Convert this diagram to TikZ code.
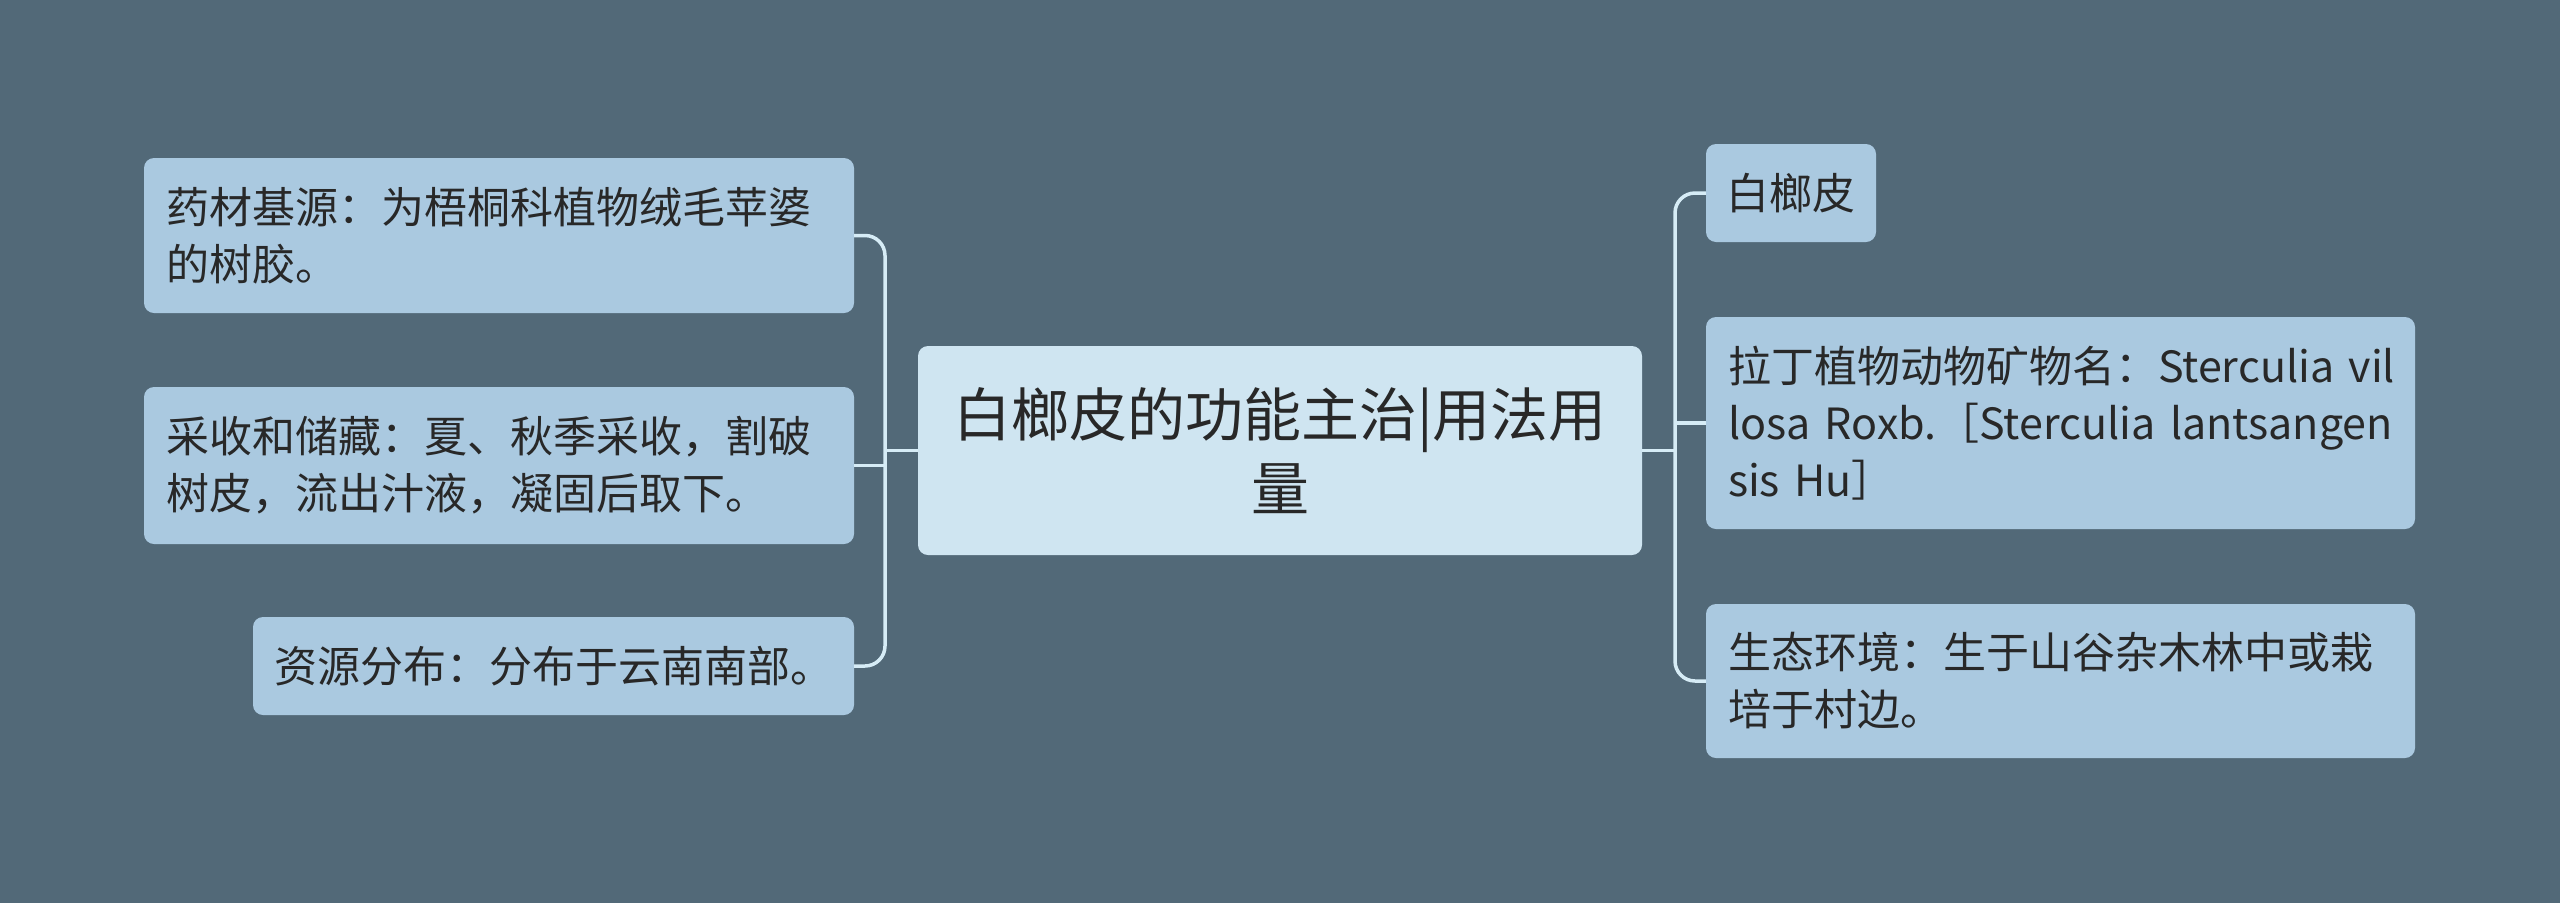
\documentclass[tikz,border=0pt]{standalone}
\usepackage{fontspec}
\setmainfont{Noto Sans CJK SC}
\definecolor{bg}{RGB}{82,105,120}
\definecolor{leaf}{RGB}{170,201,224}
\definecolor{root}{RGB}{207,229,241}
\definecolor{wire}{RGB}{214,236,246}
\definecolor{ink}{RGB}{40,40,40}
\begin{document}
\begin{tikzpicture}[x=1pt,y=-1pt,
  leafbox/.style={draw=none,fill=leaf,rounded corners=10pt,text=ink,
    font=\fontsize{43}{57}\selectfont,inner xsep=0pt,inner ysep=0pt,anchor=center},
  rootbox/.style={draw=none,fill=root,rounded corners=10pt,text=ink,
    font=\fontsize{58}{74}\selectfont,inner xsep=0pt,inner ysep=0pt,align=center,anchor=center},
  conn/.style={draw=wire,line width=3.5pt,rounded corners=20pt}]
\fill[bg] (0,0) rectangle (2560,903);
\useasboundingbox (0,0) rectangle (2560,903);

\node[rootbox,minimum width=724pt,minimum height=209pt,text width=690pt] (c) at (1280,450.5)
  {白榔皮的功能主治|用法用\\量};

\node[leafbox,minimum width=710pt,minimum height=155pt,text width=666pt,align=left] (l1) at (499,235.5)
  {药材基源：为梧桐科植物绒毛苹婆\\的树胶。};
\node[leafbox,minimum width=710pt,minimum height=157pt,text width=666pt,align=left] (l2) at (499,465.5)
  {采收和储藏：夏、秋季采收，割破\\树皮，流出汁液，凝固后取下。};
\node[leafbox,minimum width=601pt,minimum height=98pt] (l3) at (553.5,666)
  {资源分布：分布于云南南部。};

\node[leafbox,minimum width=170pt,minimum height=98pt] (r1) at (1791,193)
  {白榔皮};
\node[leafbox,minimum width=709pt,minimum height=212pt,text width=665pt,align=left] (r2) at (2060.5,423)
  {\mbox{拉丁植物动物矿物名：Sterculia vil}\\\mbox{losa Roxb.［Sterculia lantsangen}\\\mbox{sis Hu］}};
\node[leafbox,minimum width=709pt,minimum height=154pt,text width=665pt,align=left] (r3) at (2060.5,681)
  {生态环境：生于山谷杂木林中或栽\\培于村边。};

\coordinate (lj) at (885,450.5);
\coordinate (rj) at (1675,450.5);

\draw[conn] (c.west) -- (lj);
\draw[conn] (l1.east) -| (lj) |- (l3.east);
\draw[conn] (l2.east) -- (l2.east -| lj);

\draw[conn] (c.east) -- (rj);
\draw[conn] (r1.west) -| (rj) |- (r3.west);
\draw[conn] (r2.west) -- (r2.west -| rj);
\end{tikzpicture}
\end{document}
